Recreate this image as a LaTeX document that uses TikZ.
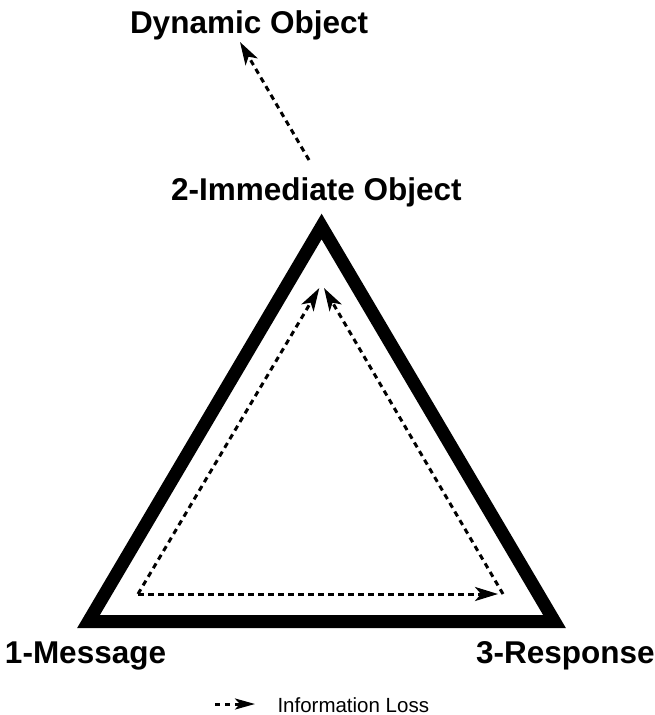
\documentclass[tikz,border=0pt]{standalone}
\usepackage{fontspec}
\setmainfont{Liberation Sans}
\usetikzlibrary{arrows.meta}
\begin{document}
\begin{tikzpicture}[x=1pt,y=-1pt,
  lbl/.style={inner sep=0pt,outer sep=0pt,anchor=base west,font=\fontsize{31.5}{36}\selectfont\bfseries},
  legtext/.style={inner sep=0pt,outer sep=0pt,anchor=base west,font=\fontsize{20.5}{24}\selectfont},
  tri/.style={line width=13pt,line join=miter},
  loss/.style={line width=3pt,dash pattern=on 5.5pt off 4.5pt,-{Stealth[length=23pt,width=14pt,inset=6pt]}},
  legloss/.style={line width=3pt,dash pattern=on 5pt off 5pt,-{Stealth[length=20pt,width=11pt,inset=5pt]}}
]
\useasboundingbox (0,0) rectangle (655,715);
% text labels
\node[lbl] (dyn) at (130,33) {Dynamic Object};
\node[lbl] (imm) at (171,200) {2-Immediate Object};
\node[lbl] (msg) at (5,663) {1-Message};
\node[lbl] (resp) at (476,663) {3-Response};
\node[legtext] (leg) at (277.5,712) {Information Loss};
% triangle
\coordinate (A) at (321.6,226.5);
\coordinate (B) at (88.5,621.5);
\coordinate (C) at (554.5,621.5);
\draw[tri] (A) -- (B) -- (C) -- cycle;
% inner loss arrows
\coordinate (iL) at (138,594);
\coordinate (iR) at (503,594);
\coordinate (iRend) at (498,594);
\coordinate (tL) at (319.3,288);
\coordinate (tR) at (324,288);
\draw[loss] (iL) -- (tL);
\draw[loss] (iR) -- (tR);
\draw[loss] (iL) -- (iRend);
% dynamic object arrow
\coordinate (dTail) at (309,160);
\coordinate (dTip) at (240,42);
\draw[loss] (dTail) -- (dTip);
% legend
\coordinate (lgA) at (215,704);
\coordinate (lgB) at (255,704);
\draw[legloss] (lgA) -- (lgB);
\end{tikzpicture}
\end{document}
